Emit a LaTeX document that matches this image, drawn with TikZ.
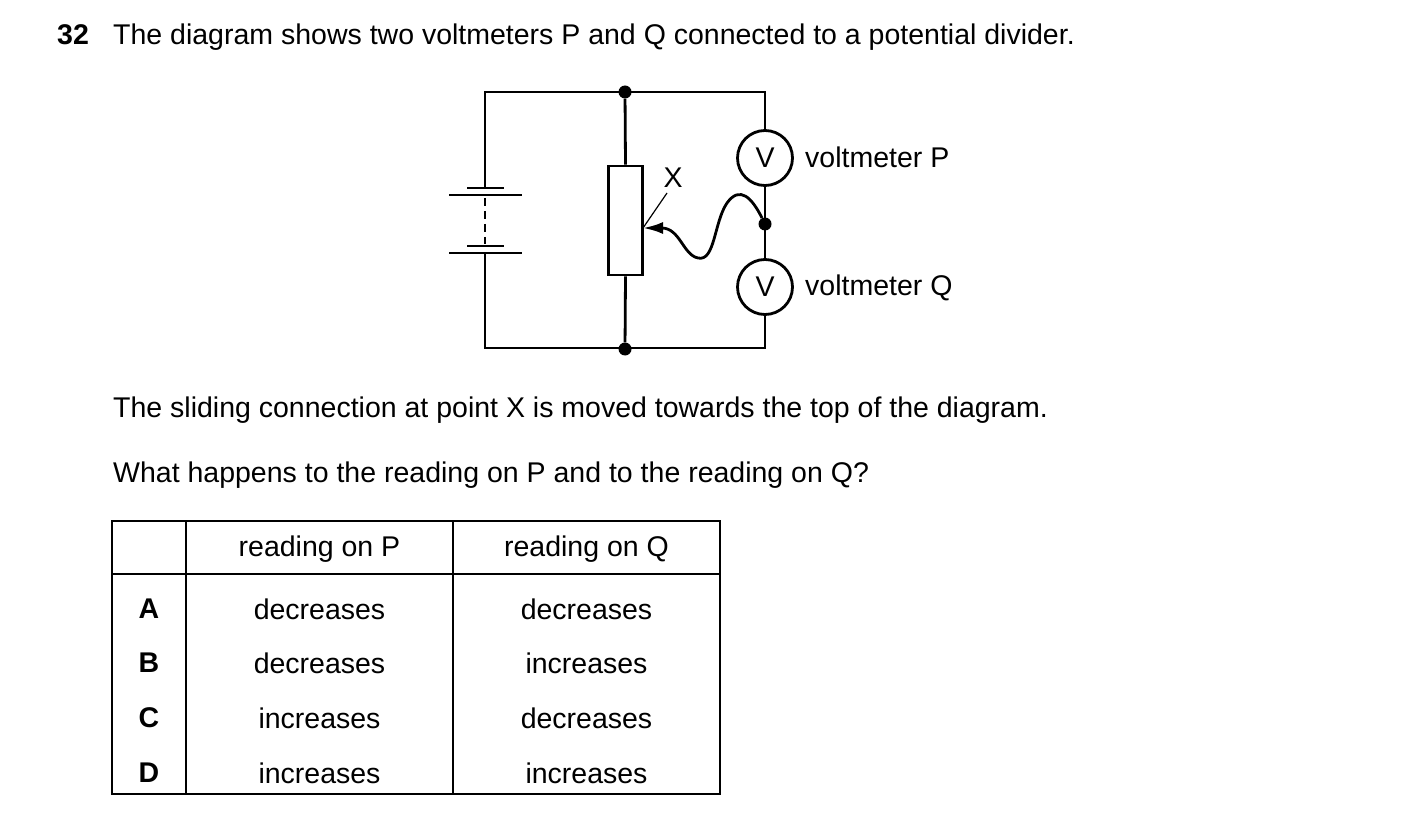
\documentclass[tikz,border=0pt]{standalone}
\usepackage{fontspec}
\setmainfont{Liberation Sans}
\usetikzlibrary{arrows.meta}
\begin{document}
\begin{tikzpicture}[x=1pt,y=-1pt,
  w/.style={line width=2.8pt},
  txt/.style={font=\fontsize{28.5}{32}\selectfont,inner sep=0pt},
  dot/.style={circle,fill,inner sep=0pt,minimum size=13pt},
  meter/.style={circle,draw,line width=2.8pt,minimum size=55pt,inner sep=0pt,fill=white,font=\fontsize{28.5}{32}\selectfont},
  tl/.style={line width=1.6pt}]
\useasboundingbox (0,0) rectangle (1403,821);
% text
\node[txt,anchor=base west,font=\fontsize{28.5}{32}\selectfont\bfseries] (num) at (57,45) {32};
\node[txt,anchor=base west] (q1) at (113,45) {The diagram shows two voltmeters P and Q connected to a potential divider.};
\node[txt,anchor=base west] (q2) at (113,417) {The sliding connection at point X is moved towards the top of the diagram.};
\node[txt,anchor=base west] (q3) at (113,482) {What happens to the reading on P and to the reading on Q?};
% circuit
\coordinate (tl) at (485,92); \coordinate (bl) at (485,348);
\coordinate (tr) at (765,92); \coordinate (br) at (765,348);
\node[dot] (jt) at (625,92) {};
\node[dot] (jb) at (625,349) {};
\node[draw,w,minimum width=34pt,minimum height=109pt,inner sep=0pt] (res) at (625.5,220.5) {};
\node[meter] (vp) at (765,158) {V};
\node[meter] (vq) at (765,287) {V};
\node[dot] (jm) at (765,224) {};
\coordinate (b1) at (485,188); \coordinate (b2) at (485,253);
\draw[w] (b1) -- (tl) -- (tr) -- (vp.north);
\draw[w] (b2) -- (bl) -- (br) -- (vq.south);
\draw[w] (vp.south) -- (vq.north);
\draw[w] (jt) -- (res.north); \draw[w] (jb) -- (res.south);
\draw[w] (467,188) -- (504,188); \draw[w] (449,195) -- (522,195);
\draw[w] (467,246) -- (504,246); \draw[w] (449,253) -- (522,253);
\draw[w,dash pattern=on 8pt off 5pt] (485,198) -- (485,244);
\coordinate (tip) at (643,228);
\draw[w,-{Latex[length=20pt,width=12pt]}] (jm) .. controls (752,198) and (740,185) .. (727,203)
  .. controls (714,222) and (715,262) .. (698,258) .. controls (683,255) and (680,228) .. (tip);
\node[txt] (X) at (673,178) {X};
\draw[line width=1.2pt] (667,193) -- (tip);
\node[txt,anchor=west] (lp) at (805,157) {voltmeter P};
\node[txt,anchor=west] (lq) at (805,288) {voltmeter Q};
% table
\draw[tl] (112,521) rectangle (720,794);
\draw[tl] (186,521) -- (186,794); \draw[tl] (453,521) -- (453,794);
\draw[tl] (112,574) -- (720,574);
\node[txt] (h1) at (319.5,549) {reading on P};
\node[txt] (h2) at (586.5,549) {reading on Q};
\foreach \y/\l/\p/\q in {609/A/decreases/decreases,663/B/decreases/increases,718/C/increases/decreases,773/D/increases/increases}{
  \node[txt,font=\fontsize{28.5}{32}\selectfont\bfseries] at (149,\y) {\l};
  \node[txt] at (319.5,\y) {\p};
  \node[txt] at (586.5,\y) {\q};
}
\end{tikzpicture}
\end{document}
